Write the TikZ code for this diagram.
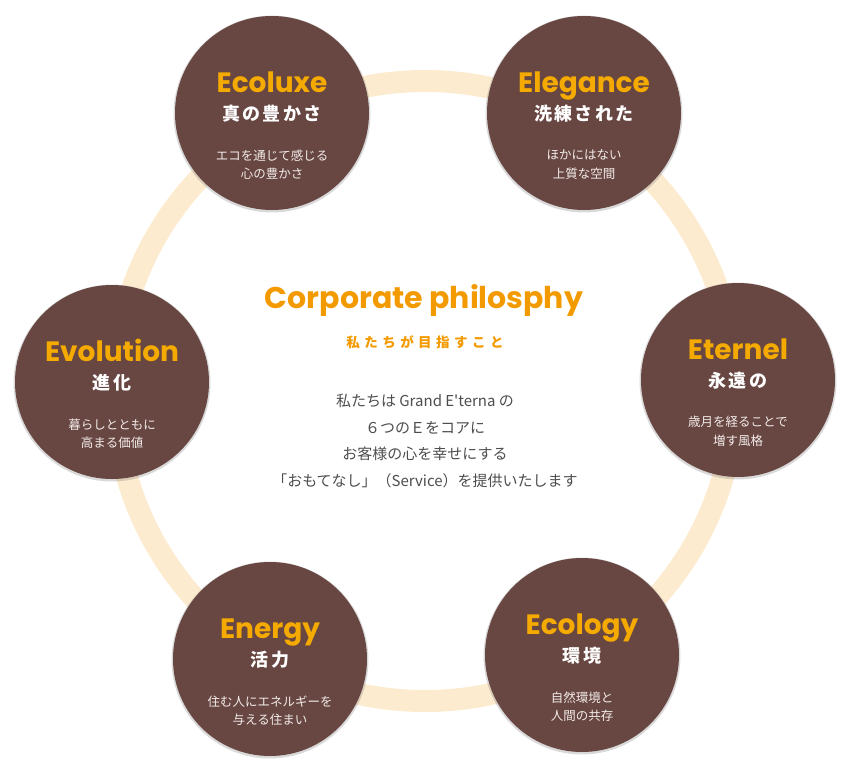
\documentclass[tikz,border=0pt]{standalone}
\usepackage{fontspec}
\setmainfont{Poppins}
\newfontfamily\jp{Noto Sans CJK JP}
\newfontfamily\jpsp[LetterSpace=12]{Noto Sans CJK JP}
\newfontfamily\jpwide[LetterSpace=33]{Noto Sans CJK JP}
\usetikzlibrary{shadows}

\definecolor{bean}{HTML}{684641}
\definecolor{cream}{HTML}{FCEBCF}
\definecolor{gold}{HTML}{F4AA00}
\definecolor{amber}{HTML}{F39A00}
\definecolor{ink}{HTML}{4D4D4D}
\definecolor{milk}{HTML}{F2ECEA}

\tikzset{
  ring/.style={draw=cream, line width=22pt},
  bubble/.style={circle, fill=bean, minimum size=194pt, inner sep=0pt,
    drop shadow={shadow xshift=0pt, shadow yshift=-1pt, shadow scale=1.015, opacity=.3}},
  ttl/.style={text=gold, font=\fontsize{28}{28}\selectfont\bfseries,
    text height=20pt, text depth=0pt, inner sep=0pt},
  head/.style={text=white, font=\jpsp\bfseries\fontsize{18}{18}\selectfont,
    text height=15.8pt, text depth=2.2pt, inner sep=0pt},
  note/.style={text=milk, font=\jp\fontsize{12.5}{18.5}\selectfont, align=center, inner sep=0pt},
}

% one brown circle with its three texts
\newcommand\ebubble[5]{%
  \node[bubble] (#1) at (#2) {};
  \node[ttl] (#1-t) at ([yshift=31pt]#1.center) {#3};
  \node[head] (#1-h) at ([yshift=-1pt]#1.center) {#4};
  \node[note] (#1-n) at ([yshift=-51.5pt]#1.center) {#5};
}

\begin{document}
\begin{tikzpicture}[x=1pt, y=-1pt]
  \useasboundingbox (0,0) rectangle (855,769);
  \coordinate (hub) at (425,391);
  \draw[ring] (hub) circle (310pt);

  \ebubble{ecoluxe}{272,113}{Ecoluxe}{真の豊かさ}{エコを通じて感じる\\心の豊かさ}
  \ebubble{elegance}{584,113}{Elegance}{洗練された}{ほかにはない\\上質な空間}
  \ebubble{eternel}{738,380}{Eternel}{永遠の}{歳月を経ることで\\増す風格}
  \ebubble{ecology}{582,655}{Ecology}{環境}{自然環境と\\人間の共存}
  \ebubble{energy}{270,659}{Energy}{活力}{住む人にエネルギーを\\与える住まい}
  \ebubble{evolution}{112,382}{Evolution}{進化}{暮らしとともに\\高まる価値}

  \node[text=amber, font=\fontsize{30}{30}\selectfont\bfseries, text height=21.3pt,
    text depth=0pt, inner sep=0pt] (cp) at (424,298) {Corporate philosphy};
  \node[text=amber, font=\jpwide\bfseries\fontsize{13.5}{13.5}\selectfont, inner sep=0pt]
    (aim) at (425,342) {私たちが目指すこと};
  \node[text=ink, font=\jp\fontsize{15}{26.7}\selectfont, align=center, inner sep=0pt]
    (body) at (425,441) {私たちは Grand E'terna の\\６つのＥをコアに\\お客様の心を幸せにする\\「おもてなし」（Service）を提供いたします};
\end{tikzpicture}
\end{document}
